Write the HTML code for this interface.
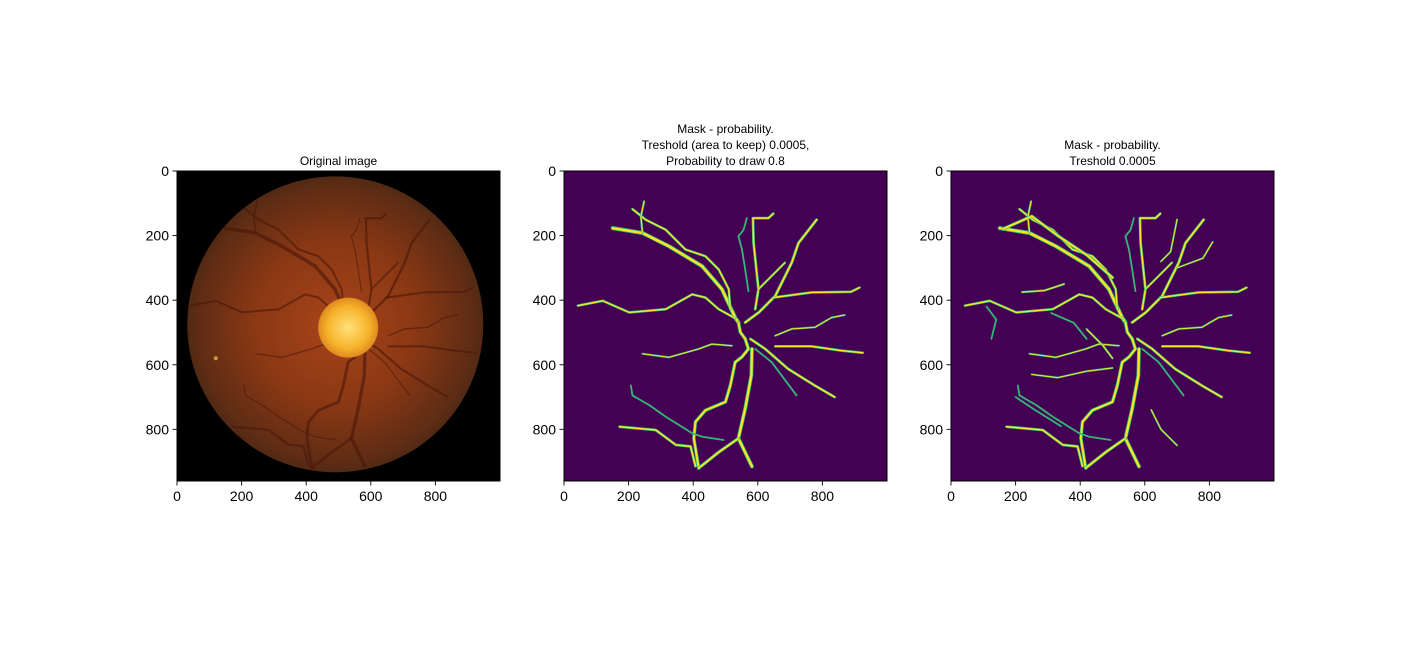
<!DOCTYPE html>
<html><head><meta charset="utf-8"><style>
html,body{margin:0;padding:0;background:#fff;}
svg{display:block;font-family:"Liberation Sans","DejaVu Sans",sans-serif;}
</style></head><body>
<svg id="fig" width="1416" height="645" viewBox="0 0 1416 645" xmlns="http://www.w3.org/2000/svg">
<defs>
<radialGradient id="fg" cx="0.5" cy="0.5" r="0.55">
<stop offset="0" stop-color="#a8441a"/>
<stop offset="0.5" stop-color="#8a3814"/>
<stop offset="0.85" stop-color="#5e2c14"/>
<stop offset="1" stop-color="#3e2614"/>
</radialGradient>
<radialGradient id="disc" cx="0.5" cy="0.5" r="0.5">
<stop offset="0" stop-color="#ffe27a"/>
<stop offset="0.7" stop-color="#f6b22a"/>
<stop offset="1" stop-color="#e08a20"/>
</radialGradient>
</defs>
</svg>
<script>
// tick labels
const xTicks=[0,200,400,600,800];
const yTicks=[0,200,400,600,800];
const titles=[["Original image"],["Mask - probability.","Treshold (area to keep) 0.0005,","Probability to draw 0.8"],["Mask - probability.","Treshold 0.0005"]];
// vessel polylines in image coordinates (x,y pairs), widths in px
const vessels=[
[[151,177],[243,192],[325,233],[428,295],[489,366],[530,454],[540,469]],
[[212,118],[253,151],[315,182],[376,243],[438,264],[479,305],[510,366],[515,428]],
[[248,94],[238,141],[243,192]],
[[43,417],[120,402],[202,438],[315,428],[397,382],[438,392],[479,428],[530,456]],
[[540,469],[546,499],[561,520],[571,551],[551,576],[530,592],[515,664],[500,715],[438,741],[407,777],[402,828],[417,920]],
[[582,551],[580,633],[561,736],[540,828],[582,915]],
[[540,828],[480,870],[417,920]],
[[172,792],[284,802],[346,848],[392,853],[407,914]],
[[207,664],[212,695],[264,725],[315,761],[397,812],[428,823],[494,833]],
[[782,151],[726,223],[705,284],[654,387],[603,438],[561,469]],
[[648,132],[633,146],[585,146],[587,223],[602,366],[592,428]],
[[602,366],[684,284]],
[[566,146],[556,182],[540,202],[551,243],[561,305],[571,372]],
[[648,392],[766,376],[889,374],[915,361]],
[[654,510],[705,489],[777,484],[828,454],[869,446]],
[[654,543],[766,543],[858,556],[925,563]],
[[577,520],[623,551],[694,613],[776,664],[838,700]],
[[592,551],[643,592],[720,695]],
[[243,566],[325,577],[417,551],[458,536],[520,541]]
];
const widths=[3.2,1.8,1.4,1.8,2.6,3,2.4,2,1,2.2,2,1.6,1,1.8,1.2,1.8,2,1,1.2];
// extra vessels only in third panel
const extraVessels=[
[[160,180],[250,140],[330,200],[420,260],[500,330]],
[[110,420],[140,460],[125,520]],
[[220,375],[290,370],[350,350]],
[[310,440],[380,470],[420,520]],
[[250,630],[330,640],[420,620],[500,610]],
[[700,150],[680,250],[650,280]],
[[620,740],[650,800],[700,850]],
[[420,490],[470,540],[500,580]],
[[810,220],[780,270],[700,300]],
[[200,700],[260,740],[340,790]]
];
const extraWidths=[2.4,1,1.4,1,1.2,1.2,1.2,1.4,1.2,1];

const svg=document.getElementById('fig');
const NS='http://www.w3.org/2000/svg';
const panels=[177,564,951];
const top0=171, W=323, H=310, IW=1000, IH=960;
function el(t,a,p){const e=document.createElementNS(NS,t);for(const k in a)e.setAttribute(k,a[k]);(p||svg).appendChild(e);return e;}
panels.forEach((x0,pi)=>{
  const sx=v=>x0+v*W/IW, sy=v=>top0+v*H/IH;
  const g=el('g',{});
  
  
  const clipId='c'+pi;
  const cp=el('clipPath',{id:clipId},g);el('rect',{x:x0,y:top0,width:W,height:H},cp);
  const ig=el('g',{'clip-path':'url(#'+clipId+')'},g);
  
  
  if(pi===0){
    el('rect',{x:x0,y:top0,width:W,height:H,fill:'#000'},ig);
    el('circle',{cx:sx(490),cy:sy(475),r:148,fill:'url(#fg)'},ig);
    vessels.forEach((v,i)=>{el('polyline',{points:v.map(p=>sx(p[0])+','+sy(p[1])).join(' '),fill:'none',stroke:'#4a180a','stroke-opacity':0.6,'stroke-width':widths[i]*1.1,'stroke-linecap':'round','stroke-linejoin':'round'},ig);});
    el('circle',{cx:sx(530),cy:sy(485),r:30,fill:'url(#disc)'},ig);
    el('circle',{cx:sx(120),cy:sy(580),r:2,fill:'#c89a40'},ig);
  } else {
    el('rect',{x:x0,y:top0,width:W,height:H,fill:'#440154'},ig);
    let list=vessels.map((v,i)=>[v,widths[i]]);
    if(pi===2) list=list.concat(extraVessels.map((v,i)=>[v,extraWidths[i]]));
    list.forEach(([v,w])=>{
      const pts=v.map(p=>sx(p[0])+','+sy(p[1])).join(' ');
      const a=el('polyline',{points:pts,fill:'none',stroke:'#35b779','stroke-width':w+0.8,'stroke-linecap':'round','stroke-linejoin':'round'},ig);
      
      
      if(w>1.1){const b=el('polyline',{points:pts,fill:'none',stroke:'#fde725','stroke-width':w*0.75,'stroke-linecap':'round','stroke-linejoin':'round'},ig);
      
      }
    });
  }
  const fr=el('rect',{x:x0,y:top0,width:W,height:H,fill:'none',stroke:'#000','stroke-width':1},g);
  
  
  xTicks.forEach(t=>{
    el('line',{x1:sx(t),x2:sx(t),y1:top0+H,y2:top0+H+4.5,stroke:'#000','stroke-width':0.9},g);
    const tx=el('text',{x:sx(t),y:top0+H+20,'font-size':14,'text-anchor':'middle',fill:'#000'},g);
    tx.textContent=t;
    
    
  });
  yTicks.forEach(t=>{
    el('line',{x1:x0-4.5,x2:x0,y1:sy(t),y2:sy(t),stroke:'#000','stroke-width':0.9},g);
    const tx=el('text',{x:x0-8,y:sy(t)+5,'font-size':14,'text-anchor':'end',fill:'#000'},g);
    tx.textContent=t;
    
    
  });
  const lines=titles[pi];
  lines.forEach((s,i)=>{
    const tt=el('text',{x:x0+W/2,y:top0-6-(lines.length-1-i)*16,'font-size':12,'text-anchor':'middle',fill:'#000'},g);
    tt.textContent=s;
    
    
  });
});
</script>
</body></html>
